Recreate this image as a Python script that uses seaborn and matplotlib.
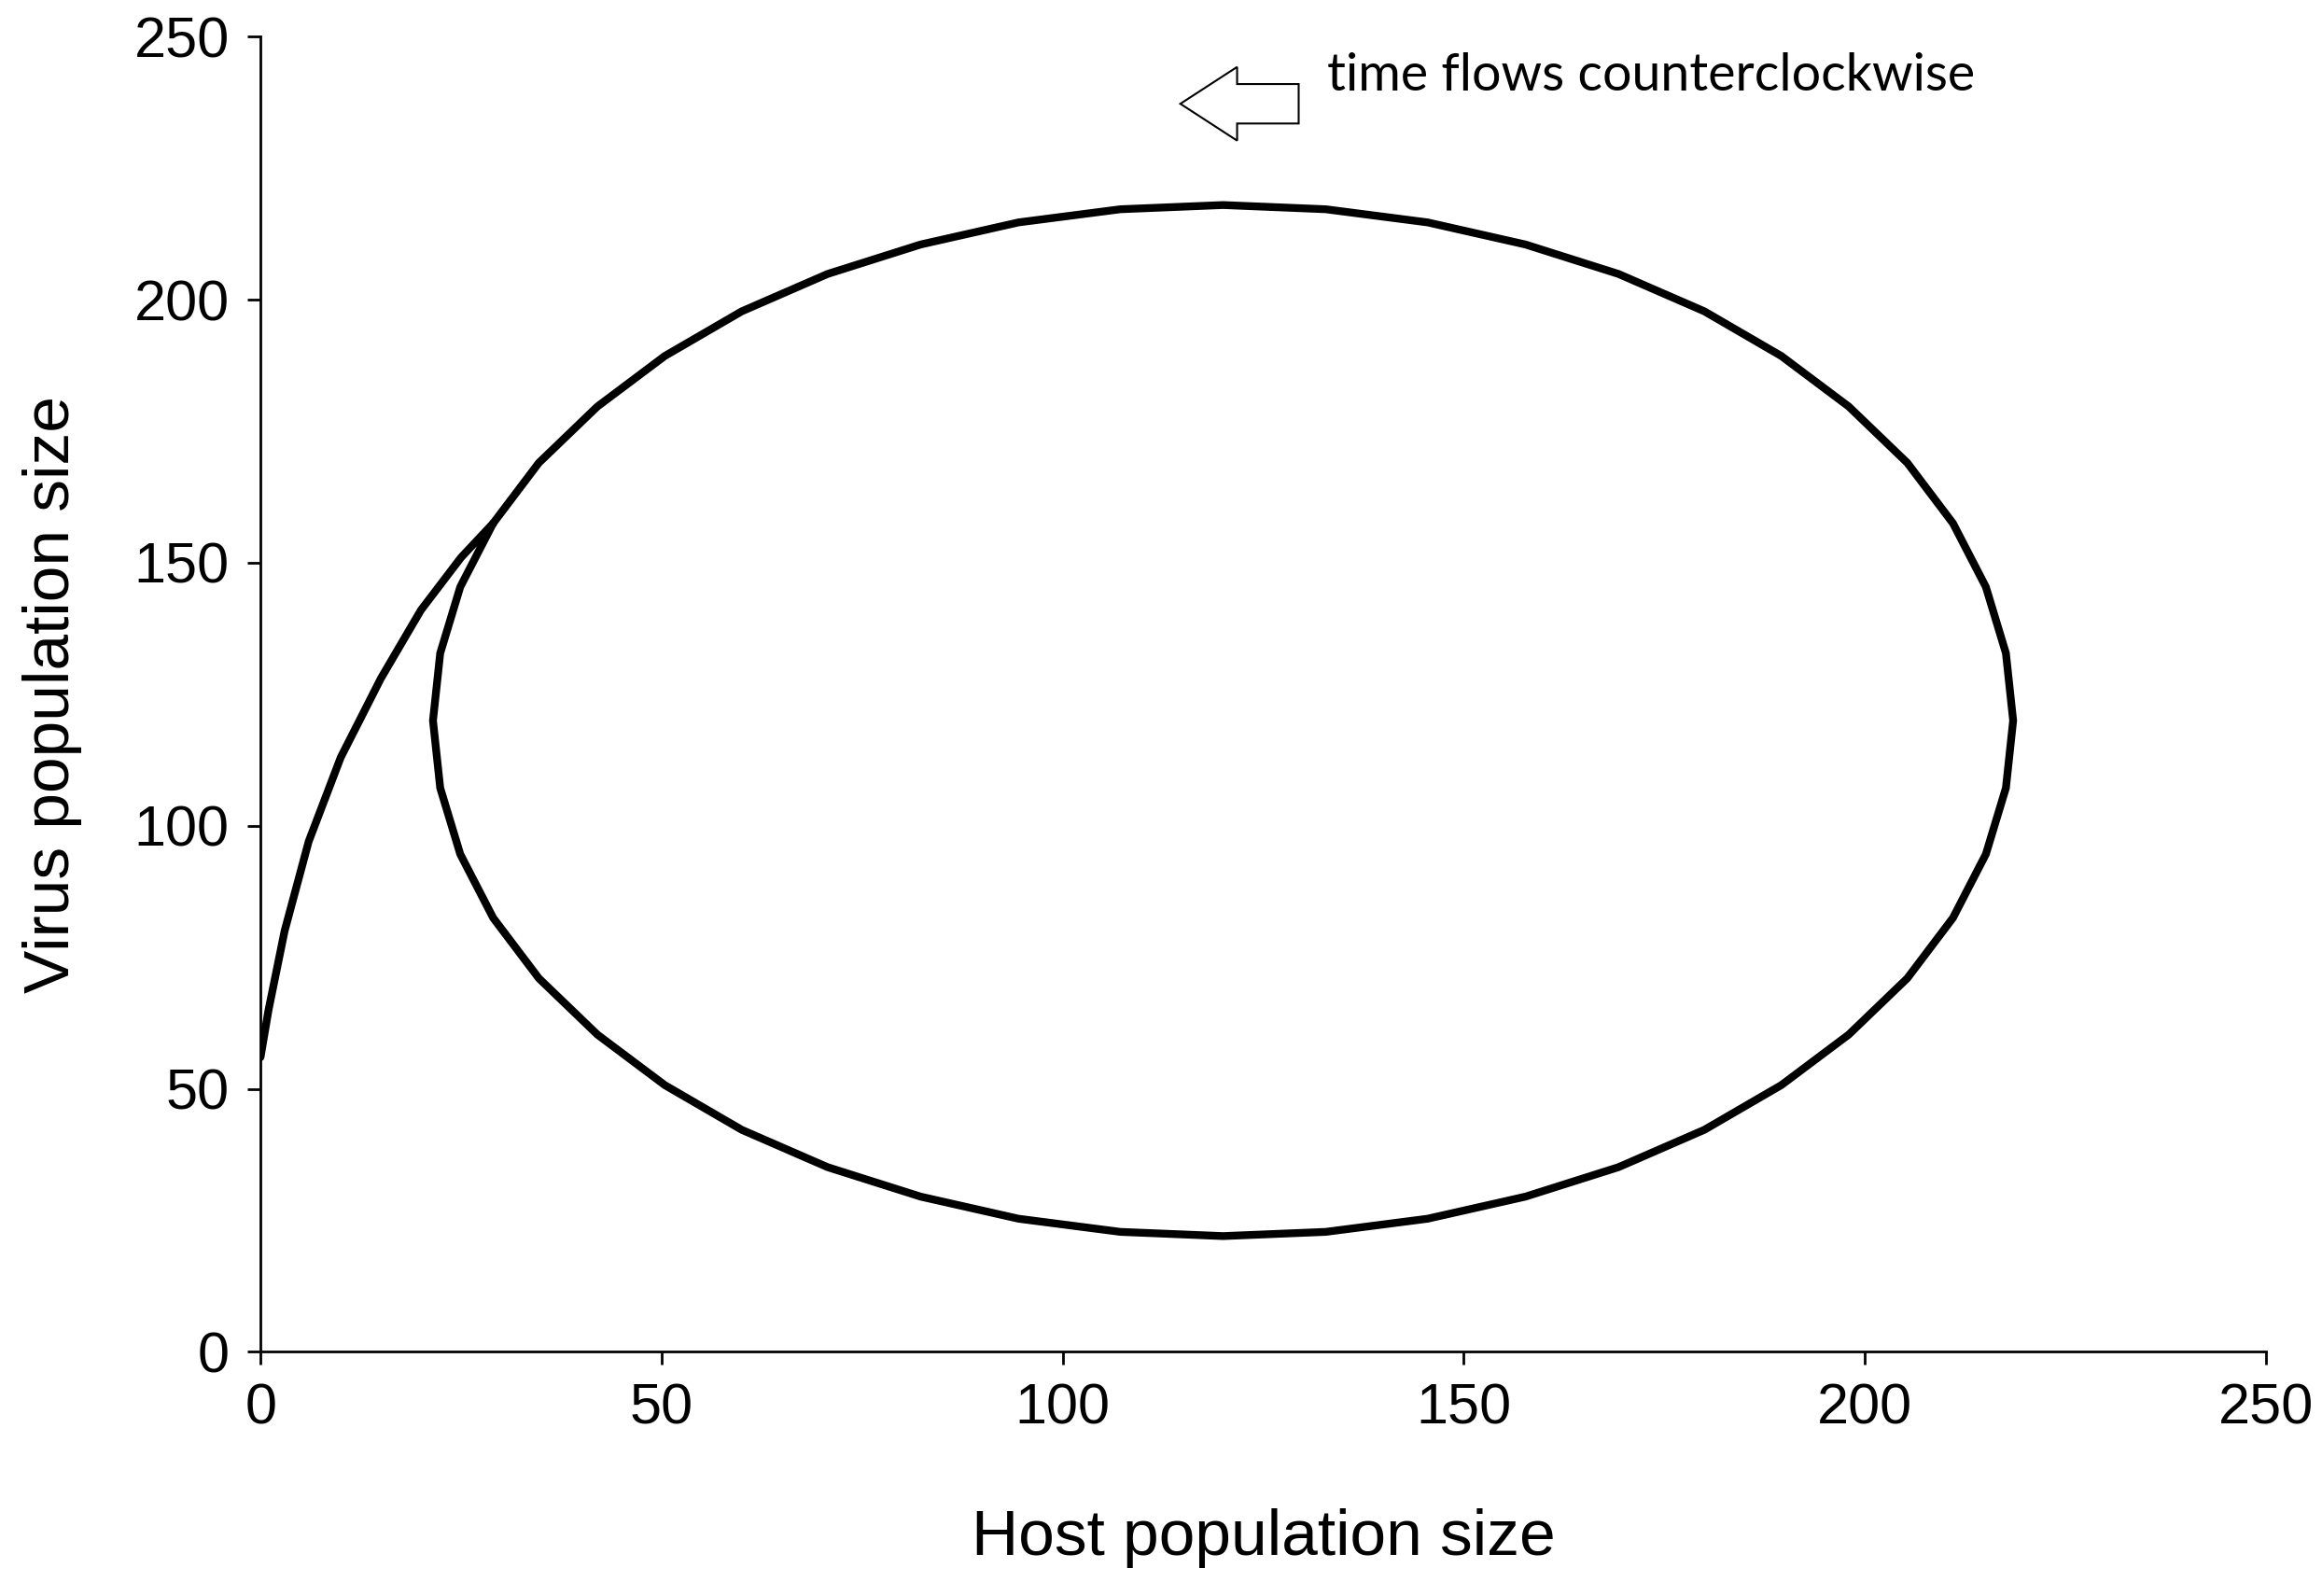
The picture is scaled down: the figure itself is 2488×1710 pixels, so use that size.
import matplotlib
matplotlib.use("Agg")
import matplotlib.pyplot as plt
import seaborn as sns
import pandas as pd
from matplotlib.patches import Polygon

# Host / virus trajectory: transient approach, then the cycle
host = [0, 1, 3, 6, 10, 15, 20, 25, 29.0,
        34.7, 42.0, 50.4, 60.0, 70.7, 82.3, 94.5, 107.2, 120.0, 132.8, 145.5,
        157.7, 169.3, 180.0, 189.6, 198.0, 205.3, 211.0, 215.1, 217.6, 218.5,
        217.6, 215.1, 211.0, 205.3, 198.0, 189.6, 180.0, 169.3, 157.7, 145.5,
        132.8, 120.0, 107.2, 94.5, 82.3, 70.7, 60.0, 50.4, 42.0, 34.7,
        29.0, 24.9, 22.4, 21.5, 22.4, 24.9, 29.0]
virus = [56, 65, 80, 97, 113, 128, 141, 151, 157.5,
         169.0, 179.7, 189.3, 197.8, 204.9, 210.5, 214.7, 217.2, 218.0, 217.2, 214.7,
         210.5, 204.9, 197.8, 189.3, 179.7, 169.0, 157.5, 145.4, 132.8, 120.0,
         107.2, 94.6, 82.5, 71.0, 60.3, 50.7, 42.2, 35.1, 29.5, 25.3,
         22.8, 22.0, 22.8, 25.3, 29.5, 35.1, 42.2, 50.7, 60.3, 71.0,
         82.5, 94.6, 107.2, 120.0, 132.8, 145.4, 157.5]
x_ticks = [0, 50, 100, 150, 200, 250]
y_ticks = [0, 50, 100, 150, 200, 250]

df = pd.DataFrame({"host": host, "virus": virus, "step": range(len(host))})

sns.set_style("white")
plt.rcParams['font.family'] = ['Liberation Sans', 'DejaVu Sans']
plt.rcParams['text.color'] = 'black'
plt.rcParams['axes.labelcolor'] = 'black'
plt.rcParams['xtick.color'] = 'black'
plt.rcParams['ytick.color'] = 'black'

fig = plt.figure(figsize=(24.88, 17.10), dpi=100)
ax = fig.add_axes([0.1122, 0.153, 0.8636, 0.824])
sns.lineplot(data=df, x="host", y="virus", sort=False, estimator=None,
             color="black", linewidth=6, ax=ax, solid_joinstyle="round")

ax.set_xlim(0, 250)
ax.set_ylim(0, 250)
ax.set_xticks(x_ticks)
ax.set_yticks(y_ticks)
ax.tick_params(labelsize=44, length=10, width=2, direction="out", pad=14,
               bottom=True, left=True)
for s in ["top", "right"]:
    ax.spines[s].set_visible(False)
for s in ["left", "bottom"]:
    ax.spines[s].set_linewidth(2)
    ax.spines[s].set_color("black")
ax.set_xlabel("Host population size", fontsize=50, labelpad=56)
ax.set_ylabel("Virus population size", fontsize=50, labelpad=40)

# block arrow + note
arrow = Polygon([(0.4587, 0.949), (0.487, 0.977), (0.487, 0.964), (0.5177, 0.964),
                 (0.5177, 0.934), (0.487, 0.934), (0.487, 0.921)],
                closed=True, transform=ax.transAxes, facecolor="white",
                edgecolor="black", linewidth=1.5, clip_on=False)
ax.add_patch(arrow)
ax.text(0.532, 0.97, "time flows counterclockwise", transform=ax.transAxes,
        fontsize=40, va="center", ha="left", family=['Lato', 'DejaVu Sans'])

fig.savefig("out.png", dpi=100, facecolor="white")
